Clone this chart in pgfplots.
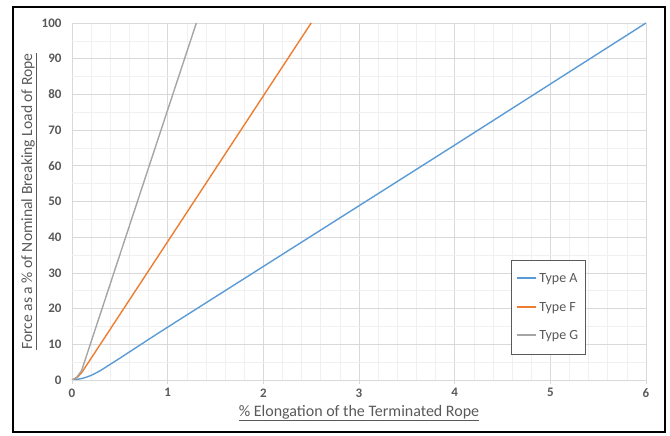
\documentclass[border=0pt]{standalone}
\usepackage{pgfplots}
\pgfplotsset{compat=1.18}
\usepackage{fontspec}
\setmainfont{Carlito}
\definecolor{txt}{RGB}{89,89,89}
\definecolor{typeAblue}{RGB}{91,155,213}
\definecolor{typeForange}{RGB}{237,125,49}
\definecolor{typeGgray}{RGB}{165,165,165}
\definecolor{majg}{RGB}{217,217,217}
\definecolor{ming}{RGB}{240,240,240}
\definecolor{legb}{RGB}{90,90,90}
\begin{document}
\begin{tikzpicture}[x=1pt,y=1pt]
\useasboundingbox (-72,-56) rectangle (598,380);
\draw[line width=2pt,black] (-59,-52) rectangle (593,373);
\begin{axis}[
  at={(0,0)}, anchor=south west,
  scale only axis, width=574pt, height=357pt,
  xmin=0, xmax=6, ymin=0, ymax=100,
  xtick={0,1,2,3,4,5,6}, ytick={0,10,...,100},
  minor x tick num=4, minor y tick num=1,
  grid=both,
  major grid style={majg, line width=0.6pt},
  minor grid style={ming, line width=0.5pt},
  axis x line*=bottom, axis y line*=left,
  x axis line style={majg, line width=0.8pt, -},
  y axis line style={draw=none, -},
  xtick style={majg, line width=0.6pt}, major tick length=4pt, minor tick length=0pt,
  tick align=outside,
  ytick style={draw=none},
  /pgf/number format/assume math mode=true,
  ticklabel style={font=\fontsize{13}{14}\selectfont\bfseries, text=txt},
  xticklabel style={yshift=-1pt},
  yticklabel style={xshift=-3pt},
  xlabel={\underline{\% Elongation of the Terminated Rope}},
  ylabel={\underline{Force as a \% of Nominal Breaking Load of Rope}},
  label style={font=\fontsize{16}{17}\selectfont, text=txt},
  xlabel style={yshift=-1pt},
  ylabel style={yshift=-2pt, font=\fontsize{15.6}{17}\selectfont},
  legend style={at={(axis cs:4.59,33.5)}, anchor=north west, draw=legb, line width=0.6pt,
    font=\fontsize{14}{15}\selectfont, inner xsep=5pt, inner ysep=4pt,
    nodes={text=txt, inner ysep=9pt}},
  legend cell align=left,
  legend image code/.code={\draw[#1, line width=2pt] (0pt,0.6pt) -- (19pt,0.6pt);},
]
\addplot[draw=typeAblue, line width=1.4pt, smooth] coordinates {
(0,0) (0.1,0.4) (0.2,1.3) (0.3,2.7) (0.4,4.4) (0.5,6.1) (0.7,9.6) (1,14.8) (2,31.8) (3,48.8) (4,65.8) (5,82.9) (6,100)};
\addlegendentry{Type A}
\addplot[draw=typeForange, line width=1.4pt] coordinates {
(0,0) (0.05,0.6) (0.1,2) (2.5,100)};
\addlegendentry{Type F}
\addplot[draw=typeGgray, line width=1.4pt] coordinates {
(0,0) (0.05,0.8) (0.1,2.6) (1.3,100)};
\addlegendentry{Type G}
\end{axis}
\end{tikzpicture}
\end{document}
